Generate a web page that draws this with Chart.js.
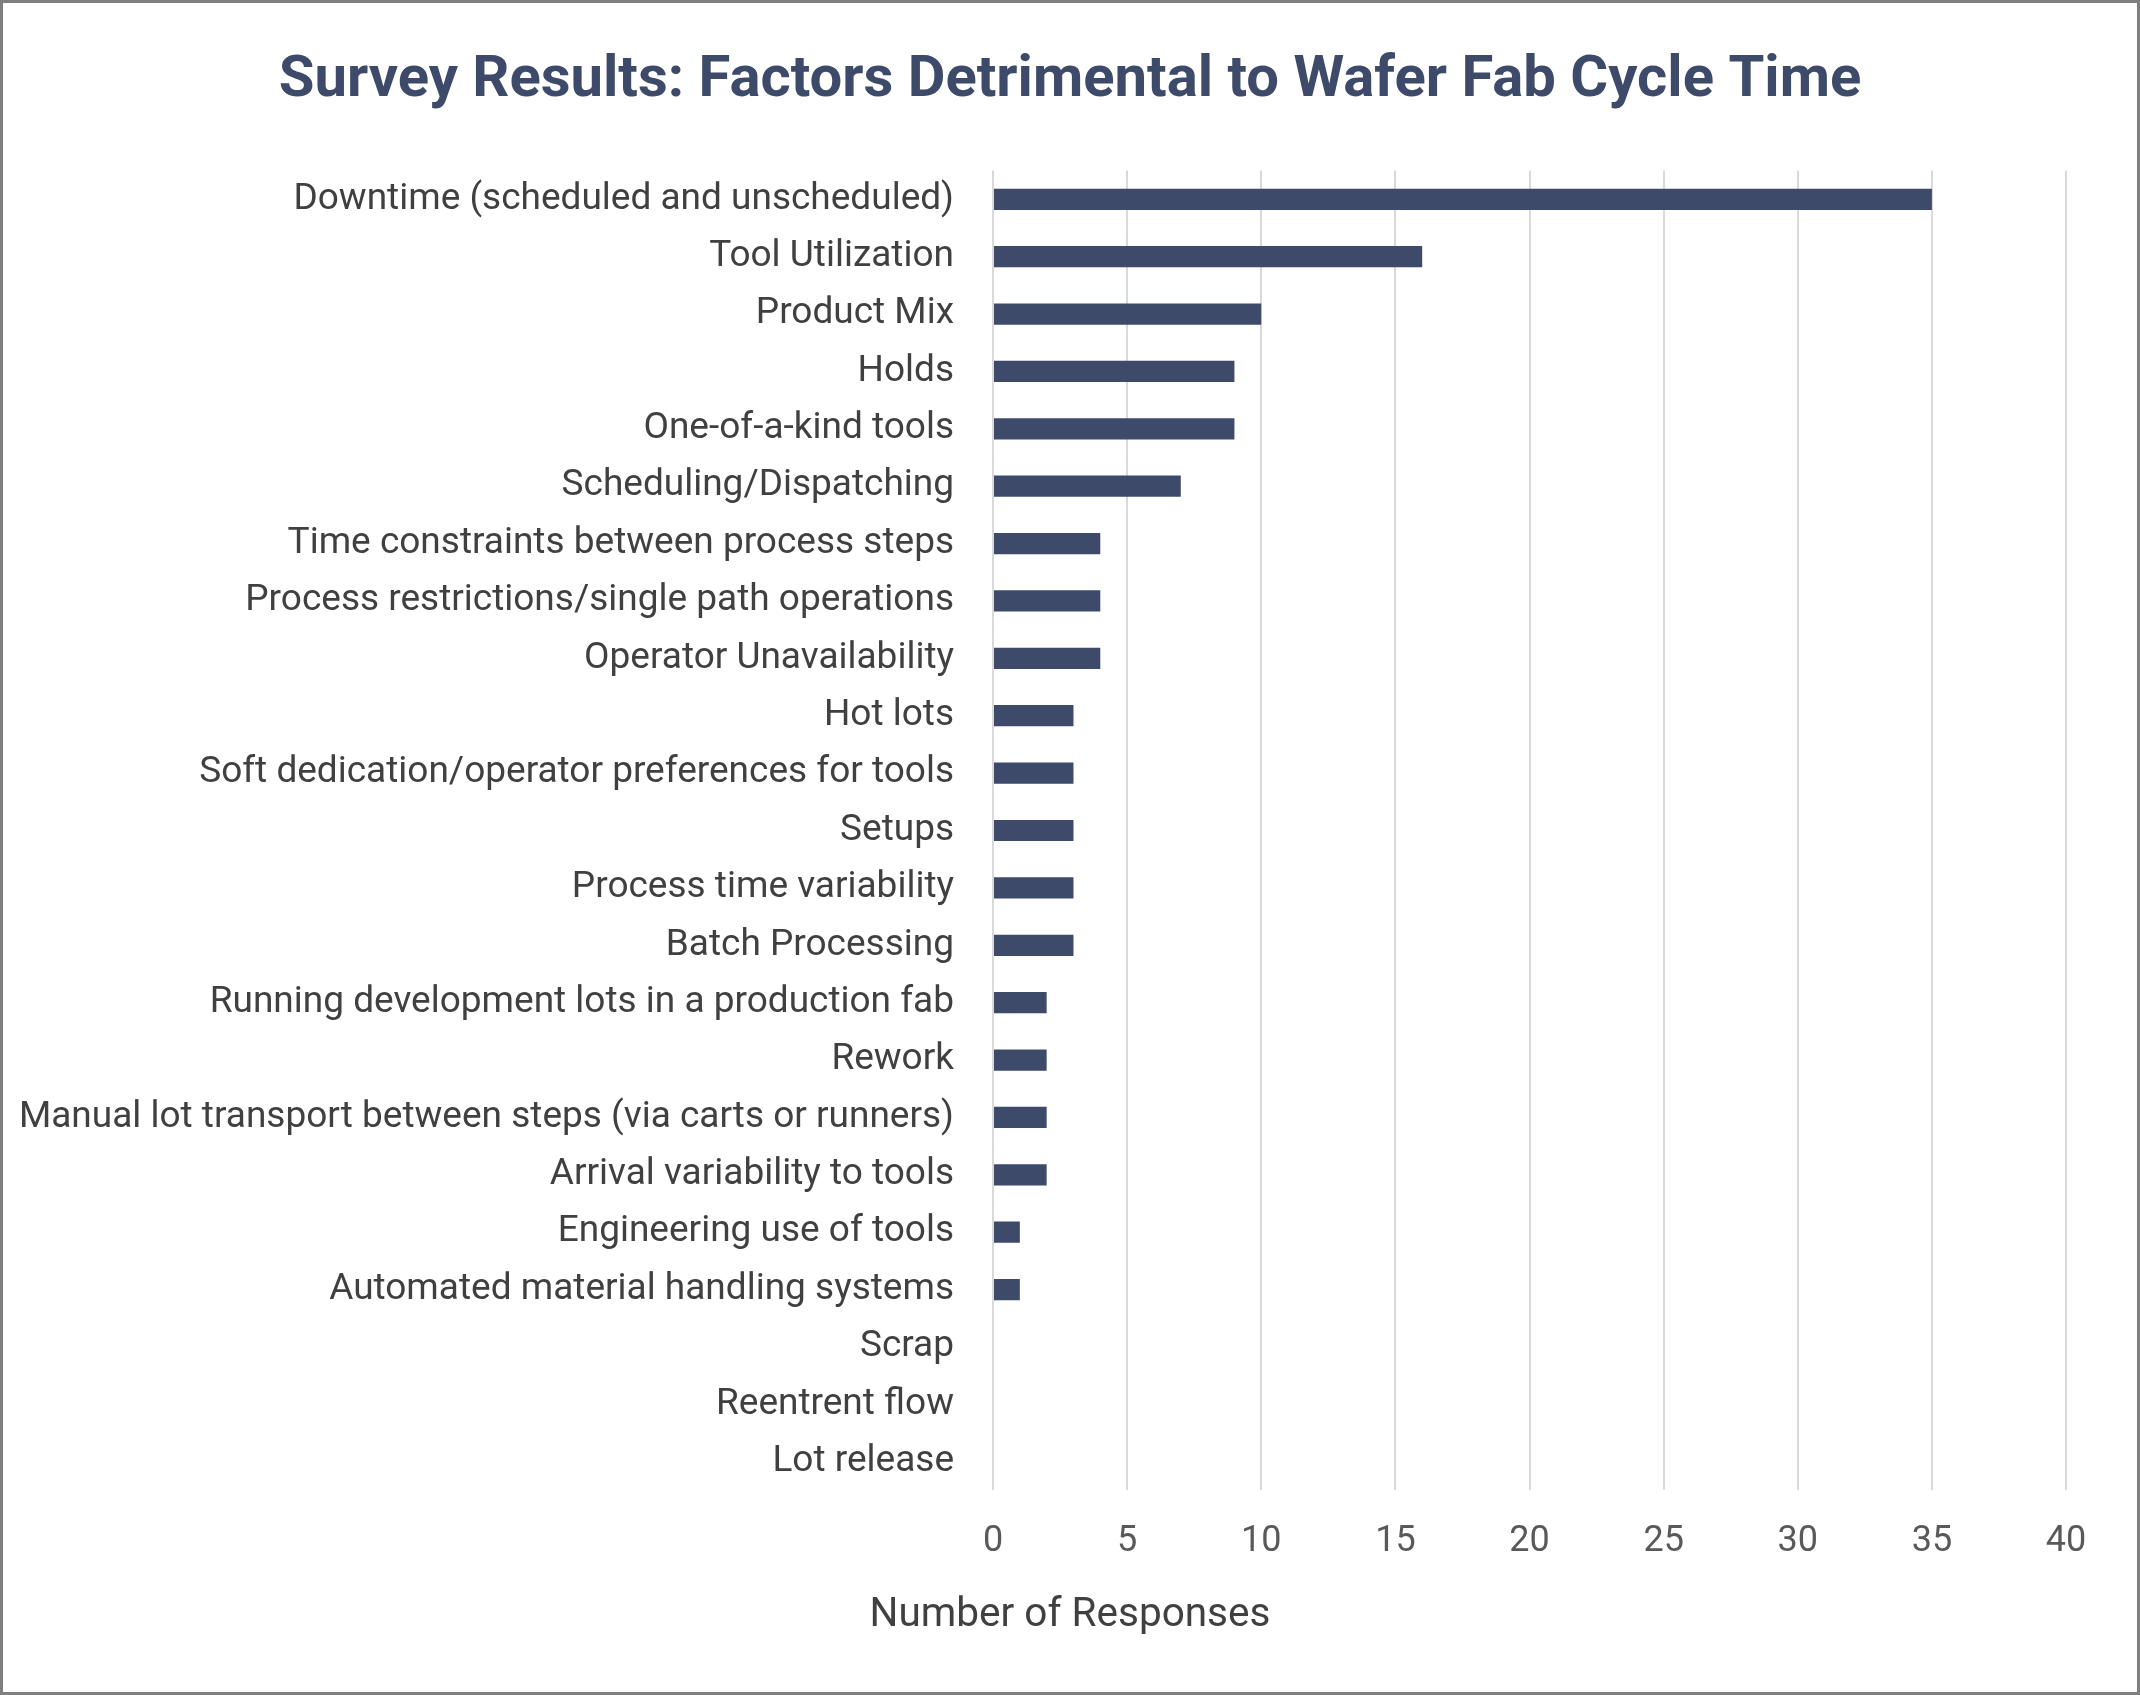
<!DOCTYPE html>
<html>
<head>
<meta charset="utf-8">
<title>Survey Results</title>
<script src="https://cdn.jsdelivr.net/npm/chart.js@4.4.1/dist/chart.umd.min.js"></script>
<style>
  html, body { margin: 0; padding: 0; background: #fff; }
  #wrap { width: 2140px; height: 1695px; position: relative; }
</style>
</head>
<body>
<div id="wrap"><canvas id="myChart"></canvas></div>
<script>
/* global Chart */
var categories = [
  'Downtime (scheduled and unscheduled)',
  'Tool Utilization',
  'Product Mix',
  'Holds',
  'One-of-a-kind tools',
  'Scheduling/Dispatching',
  'Time constraints between process steps',
  'Process restrictions/single path operations',
  'Operator Unavailability',
  'Hot lots',
  'Soft dedication/operator preferences for tools',
  'Setups',
  'Process time variability',
  'Batch Processing',
  'Running development lots in a production fab',
  'Rework',
  'Manual lot transport between steps (via carts or runners)',
  'Arrival variability to tools',
  'Engineering use of tools',
  'Automated material handling systems',
  'Scrap',
  'Reentrent flow',
  'Lot release'
]
var responses = [35, 16, 10, 9, 9, 7, 4, 4, 4, 3, 3, 3, 3, 3, 2, 2, 2, 2, 1, 1, 0, 0, 0]
var xTicks = [0, 5, 10, 15, 20, 25, 30, 35, 40]

var titleText = 'Survey Results: Factors Detrimental to Wafer Fab Cycle Time'
var xTitleText = 'Number of Responses'

var navy = '#3D4A6A'

// white page with grey frame
var frame = {
  id: 'frame',
  beforeDraw: function (chart) {
    var c = chart.ctx
    c.save()
    c.fillStyle = '#ffffff'
    c.fillRect(0, 0, chart.width, chart.height)
    c.strokeStyle = '#7f7f7f'
    c.lineWidth = 3
    c.strokeRect(1.5, 1.5, chart.width - 3, chart.height - 3)
    c.restore()
  }
}

var ctx = document.getElementById('myChart')
var myChart = new Chart(ctx, {
  type: 'bar',
  data: {
    labels: categories,
    datasets: [{
      label: 'Responses',
      data: responses,
      backgroundColor: navy,
      borderWidth: 0,
      barPercentage: 0.37,
      categoryPercentage: 1
    }]
  },
  options: {
    indexAxis: 'y',
    responsive: true,
    maintainAspectRatio: false,
    animation: false,
    devicePixelRatio: 1,
    layout: { padding: 0 },
    plugins: {
      legend: { display: false },
      tooltip: { enabled: false },
      title: {
        display: true,
        text: titleText,
        color: navy,
        font: { family: 'Roboto', size: 58, weight: 'bold', lineHeight: 1.2 },
        padding: { top: 47, bottom: 54 }
      },
      subtitle: {
        display: true,
        position: 'bottom',
        text: xTitleText,
        color: '#404040',
        font: { family: 'Roboto', size: 40.5, weight: 'normal', lineHeight: 1.2 },
        padding: { top: 26, bottom: 55 }
      }
    },
    scales: {
      x: {
        min: 0,
        max: 40,
        afterBuildTicks: function (scale) {
          scale.ticks = xTicks.map(function (v) { return { value: v } })
        },
        afterFit: function (scale) { scale.height = 75 },
        grid: { color: '#d9d9d9', lineWidth: 2, drawTicks: false },
        border: { display: false },
        ticks: {
          color: '#595959',
          padding: 30,
          font: { family: 'Roboto', size: 36, lineHeight: 1.2 }
        }
      },
      y: {
        afterFit: function (scale) { scale.width = 993 },
        grid: { display: false, drawTicks: false },
        border: { display: false },
        ticks: {
          color: '#404040',
          padding: 39,
          autoSkip: false,
          font: { family: 'Roboto', size: 37, lineHeight: 1.2 }
        }
      },
      // empty right margin so the titles stay centred on the whole page
      yRight: {
        type: 'category',
        position: 'right',
        afterFit: function (scale) { scale.width = 74 },
        grid: { display: false, drawTicks: false },
        border: { display: false },
        ticks: { display: false }
      }
    }
  },
  plugins: [frame]
})
</script>
</body>
</html>
